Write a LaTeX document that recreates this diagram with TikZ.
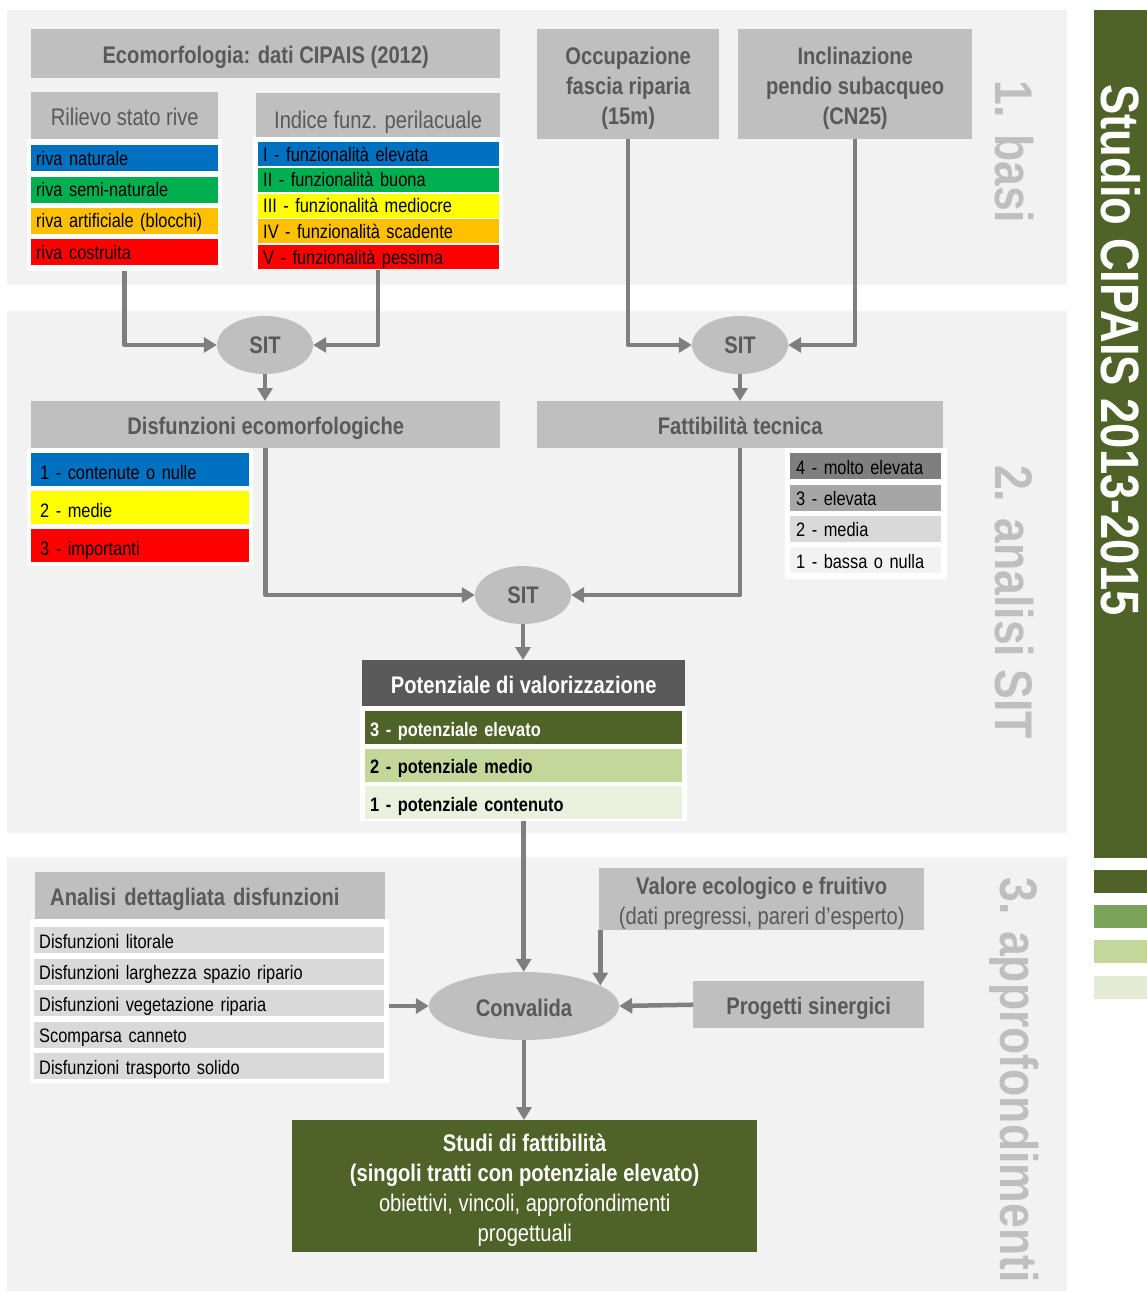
\documentclass[tikz,border=0pt]{standalone}
\usepackage{fontspec}
\setmainfont{Liberation Sans}[FakeStretch=0.84]
\usepackage{xcolor}
\usepackage{tikz}
\usetikzlibrary{arrows.meta,positioning,shapes.geometric}
\definecolor{panelbg}{HTML}{F2F2F2}
\definecolor{boxgrey}{HTML}{BFBFBF}
\definecolor{txtgrey}{HTML}{595959}
\definecolor{arrowgrey}{HTML}{7F7F7F}
\definecolor{sidegrey}{HTML}{BFBFBF}
\definecolor{oliva}{HTML}{4F6228}
\definecolor{olivamid}{HTML}{7BA45A}
\definecolor{olivalight}{HTML}{C4D79B}
\definecolor{olivapale}{HTML}{EBF1DE}
\definecolor{olivabar}{HTML}{E4ECD6}
\definecolor{cblue}{HTML}{0070C0}
\definecolor{cgreen}{HTML}{00B050}
\definecolor{corange}{HTML}{FFC000}
\definecolor{cyellow}{HTML}{FFFF00}
\definecolor{cred}{HTML}{FF0000}
\definecolor{g4}{HTML}{7F7F7F}
\definecolor{g3}{HTML}{A6A6A6}
\definecolor{g2}{HTML}{D9D9D9}
\definecolor{g1}{HTML}{F2F2F2}
\newcommand\fhead{\fontsize{24}{30}\selectfont\bfseries}
\newcommand\fsub{\fontsize{24}{30}\selectfont}
\newcommand\fitem{\fontsize{19.5}{22}\selectfont}
\newcommand\fside{\fontsize{53}{60}\selectfont\bfseries}
\newcommand\ftitle{\fontsize{54}{60}\selectfont\bfseries}
\newcommand\toprule{\rule{0pt}{25pt}}
\tikzset{
  wh/.style 2 args={minimum width=#1pt, minimum height=#2pt},
  greybox/.style={fill=boxgrey, text=txtgrey, inner sep=0pt, align=center, anchor=north west,
    execute at begin node={\rule[-5pt]{0pt}{30pt}}},
  multibox/.style={greybox, execute at begin node={}},
  back/.style={fill=white, inner sep=0pt, anchor=north west},
  itm/.style={anchor=north west, inner xsep=5pt, inner ysep=0pt, align=left, font=\fitem, text=black,
    execute at begin node={\rule[-5pt]{0pt}{#1pt}}},
  itm/.default=24,
  sit/.style={ellipse, fill=boxgrey, text=txtgrey, font=\fhead, inner sep=0pt},
  conn/.style={draw=arrowgrey, line width=4.5pt, line join=round, -{Triangle[length=13pt,width=15pt]}},
  sidelabel/.style={rotate=-90, text=sidegrey, font=\fside},
}
\begin{document}
\begin{tikzpicture}[x=1pt,y=-1pt]
\useasboundingbox (0,0) rectangle (1147,1293);
\fill[white] (0,0) rectangle (1147,1293);
\fill[panelbg] (7,10) rectangle (1067,285);
\fill[panelbg] (7,311) rectangle (1067,833);
\fill[panelbg] (7,857) rectangle (1067,1291);
\fill[oliva] (1094,10) rectangle (1147,858);
\fill[oliva] (1094,870) rectangle (1147,893);
\fill[olivamid] (1094,905) rectangle (1147,928);
\fill[olivalight] (1094,940) rectangle (1147,963);
\fill[olivabar] (1094,976) rectangle (1147,999);
\node[rotate=-90, text=white, font=\ftitle] (titolo) at (1121,350) {Studio CIPAIS 2013-2015};
\node[sidelabel] (lbasi) at (1014,152) {1. basi};
\node[sidelabel] (lanalisi) at (1014,602) {2. analisi SIT};
\node[sidelabel] (lapprof) at (1014,1080) {3. approfondimenti};

% 1. basi
\node[greybox, wh={469}{49}, font=\fhead] (ecomorf) at (31,29) {Ecomorfologia: dati CIPAIS (2012)};
\node[multibox, wh={182}{110}, font=\fhead] (occup) at (537,29) {\toprule Occupazione\\fascia riparia\\(15m)};
\node[multibox, wh={234}{110}, font=\fhead] (inclin) at (738,29) {\toprule Inclinazione\\pendio subacqueo\\(CN25)};
\node[greybox, wh={187}{47}, font=\fsub] (rilievo) at (31,92) {Rilievo stato rive};
\node[greybox, wh={244}{44}, font=\fsub, execute at begin node={\rule[-2pt]{0pt}{34pt}}] (indice) at (256,93) {Indice funz. perilacuale};
\node[back, wh={195}{132}] (rilist) at (27,139) {};
\foreach \txt/\col [count=\i from 0] in {riva naturale/cblue, riva semi-naturale/cgreen,
    riva artificiale (blocchi)/corange, riva costruita/cred}
  \node[itm, fill=\col, text width=177pt, minimum height=26pt] (riva\i) at (31,{145+31.3*\i}) {\txt};
\node[back, wh={250}{133}] (indlist) at (253,137) {};
\foreach \txt/\col [count=\i from 0] in {I - funzionalità elevata/cblue, II - funzionalità buona/cgreen,
    III - funzionalità mediocre/cyellow, IV - funzionalità scadente/corange, V - funzionalità pessima/cred}
  \node[itm, fill=\col, text width=231pt, minimum height=21pt] (ifp\i) at (258,{142+25.75*\i}) {\txt};

% 2. analisi SIT
\node[sit, wh={96}{58}] (sit1) at (265,345) {SIT};
\node[sit, wh={96}{58}] (sit2) at (740,345) {SIT};
\node[greybox, wh={469}{47}, font=\fhead] (disf) at (31,401) {Disfunzioni ecomorfologiche};
\node[greybox, wh={406}{47}, font=\fhead] (fatt) at (537,401) {Fattibilità tecnica};
\node[back, wh={226}{118}] (disflist) at (27,448) {};
\foreach \txt/\col [count=\i from 0] in {1 - contenute o nulle/cblue, 2 - medie/cyellow, 3 - importanti/cred}
  \node[itm=29, fill=\col, inner xsep=9pt, text width=200pt, minimum height=33pt] (dis\i) at (31,{453+38*\i}) {\txt};
\node[back, wh={162}{131}] (fattlist) at (785,448) {};
\foreach \txt/\col [count=\i from 0] in {4 - molto elevata/g4, 3 - elevata/g3, 2 - media/g2, 1 - bassa o nulla/g1}
  \node[itm=26, fill=\col, inner xsep=6pt, text width=139pt, minimum height=26pt] (fat\i) at (790,{453+31.3*\i}) {\txt};
\node[sit, wh={96}{58}] (sit3) at (523,595) {SIT};
\node[greybox, wh={323}{46}, fill=txtgrey, text=white, font=\fhead] (potenz) at (362,660) {Potenziale di valorizzazione};
\node[back, wh={327}{115}] (potlist) at (360,706) {};
\foreach \txt/\col/\tc [count=\i from 0] in {3 - potenziale elevato/oliva/white,
    2 - potenziale medio/olivalight/black, 1 - potenziale contenuto/olivapale/black}
  \node[itm=27, fill=\col, text=\tc, font=\fitem\bfseries, text width=307pt, minimum height=33pt] (pot\i) at (365,{711+37.5*\i}) {\txt};

% 3. approfondimenti
\node[greybox, wh={350}{47}, font=\fhead, align=left, text width=320pt, inner xsep=15pt] (analisi) at (35,872) {Analisi dettagliata disfunzioni};
\node[back, wh={359}{164}] (anlist) at (30,919) {};
\foreach \txt [count=\i from 0] in {Disfunzioni litorale, Disfunzioni larghezza spazio ripario,
    Disfunzioni vegetazione riparia, Scomparsa canneto, Disfunzioni trasporto solido}
  \node[itm=26, fill=g2, text width=340pt, minimum height=26pt] (an\i) at (34,{927+31.5*\i}) {\txt};
\node[sit, wh={190}{68}] (convalida) at (524,1006) {\rule[-5pt]{0pt}{30pt}Convalida};
\node[multibox, wh={325}{62}, font=\fsub] (valore) at (599,868) {\toprule\textbf{Valore ecologico e fruitivo}\\(dati pregressi, pareri d’esperto)};
\node[greybox, wh={231}{47}, font=\fhead] (progetti) at (693,981) {Progetti sinergici};
\node[multibox, wh={465}{132}, fill=oliva, text=white, font=\fsub] (studi) at (292,1120)
  {\toprule\textbf{Studi di fattibilità}\\\textbf{(singoli tratti con potenziale elevato)}\\obiettivi, vincoli, approfondimenti\\progettuali};

\draw[conn] (rilist.south) |- (sit1.west);
\draw[conn] (indlist.south) |- (sit1.east);
\draw[conn] (occup.south) |- (sit2.west);
\draw[conn] (inclin.south) |- (sit2.east);
\draw[conn] (sit1.south) -- (sit1.south |- disf.north);
\draw[conn] (sit2.south) -- (sit2.south |- fatt.north);
\draw[conn] (disf.south) |- (sit3.west);
\draw[conn] (fatt.south) |- (sit3.east);
\draw[conn] (sit3.south) -- (sit3.south |- potenz.north);
\draw[conn] (potlist.south) -- (potlist.south |- convalida.north);
\draw[conn] (convalida.15 |- valore.south) -- (convalida.15);
\draw[conn] (progetti.west) -- (convalida.east);
\draw[conn] (anlist.east |- convalida.west) -- (convalida.west);
\draw[conn] (convalida.south) -- (convalida.south |- studi.north);
\end{tikzpicture}
\end{document}
